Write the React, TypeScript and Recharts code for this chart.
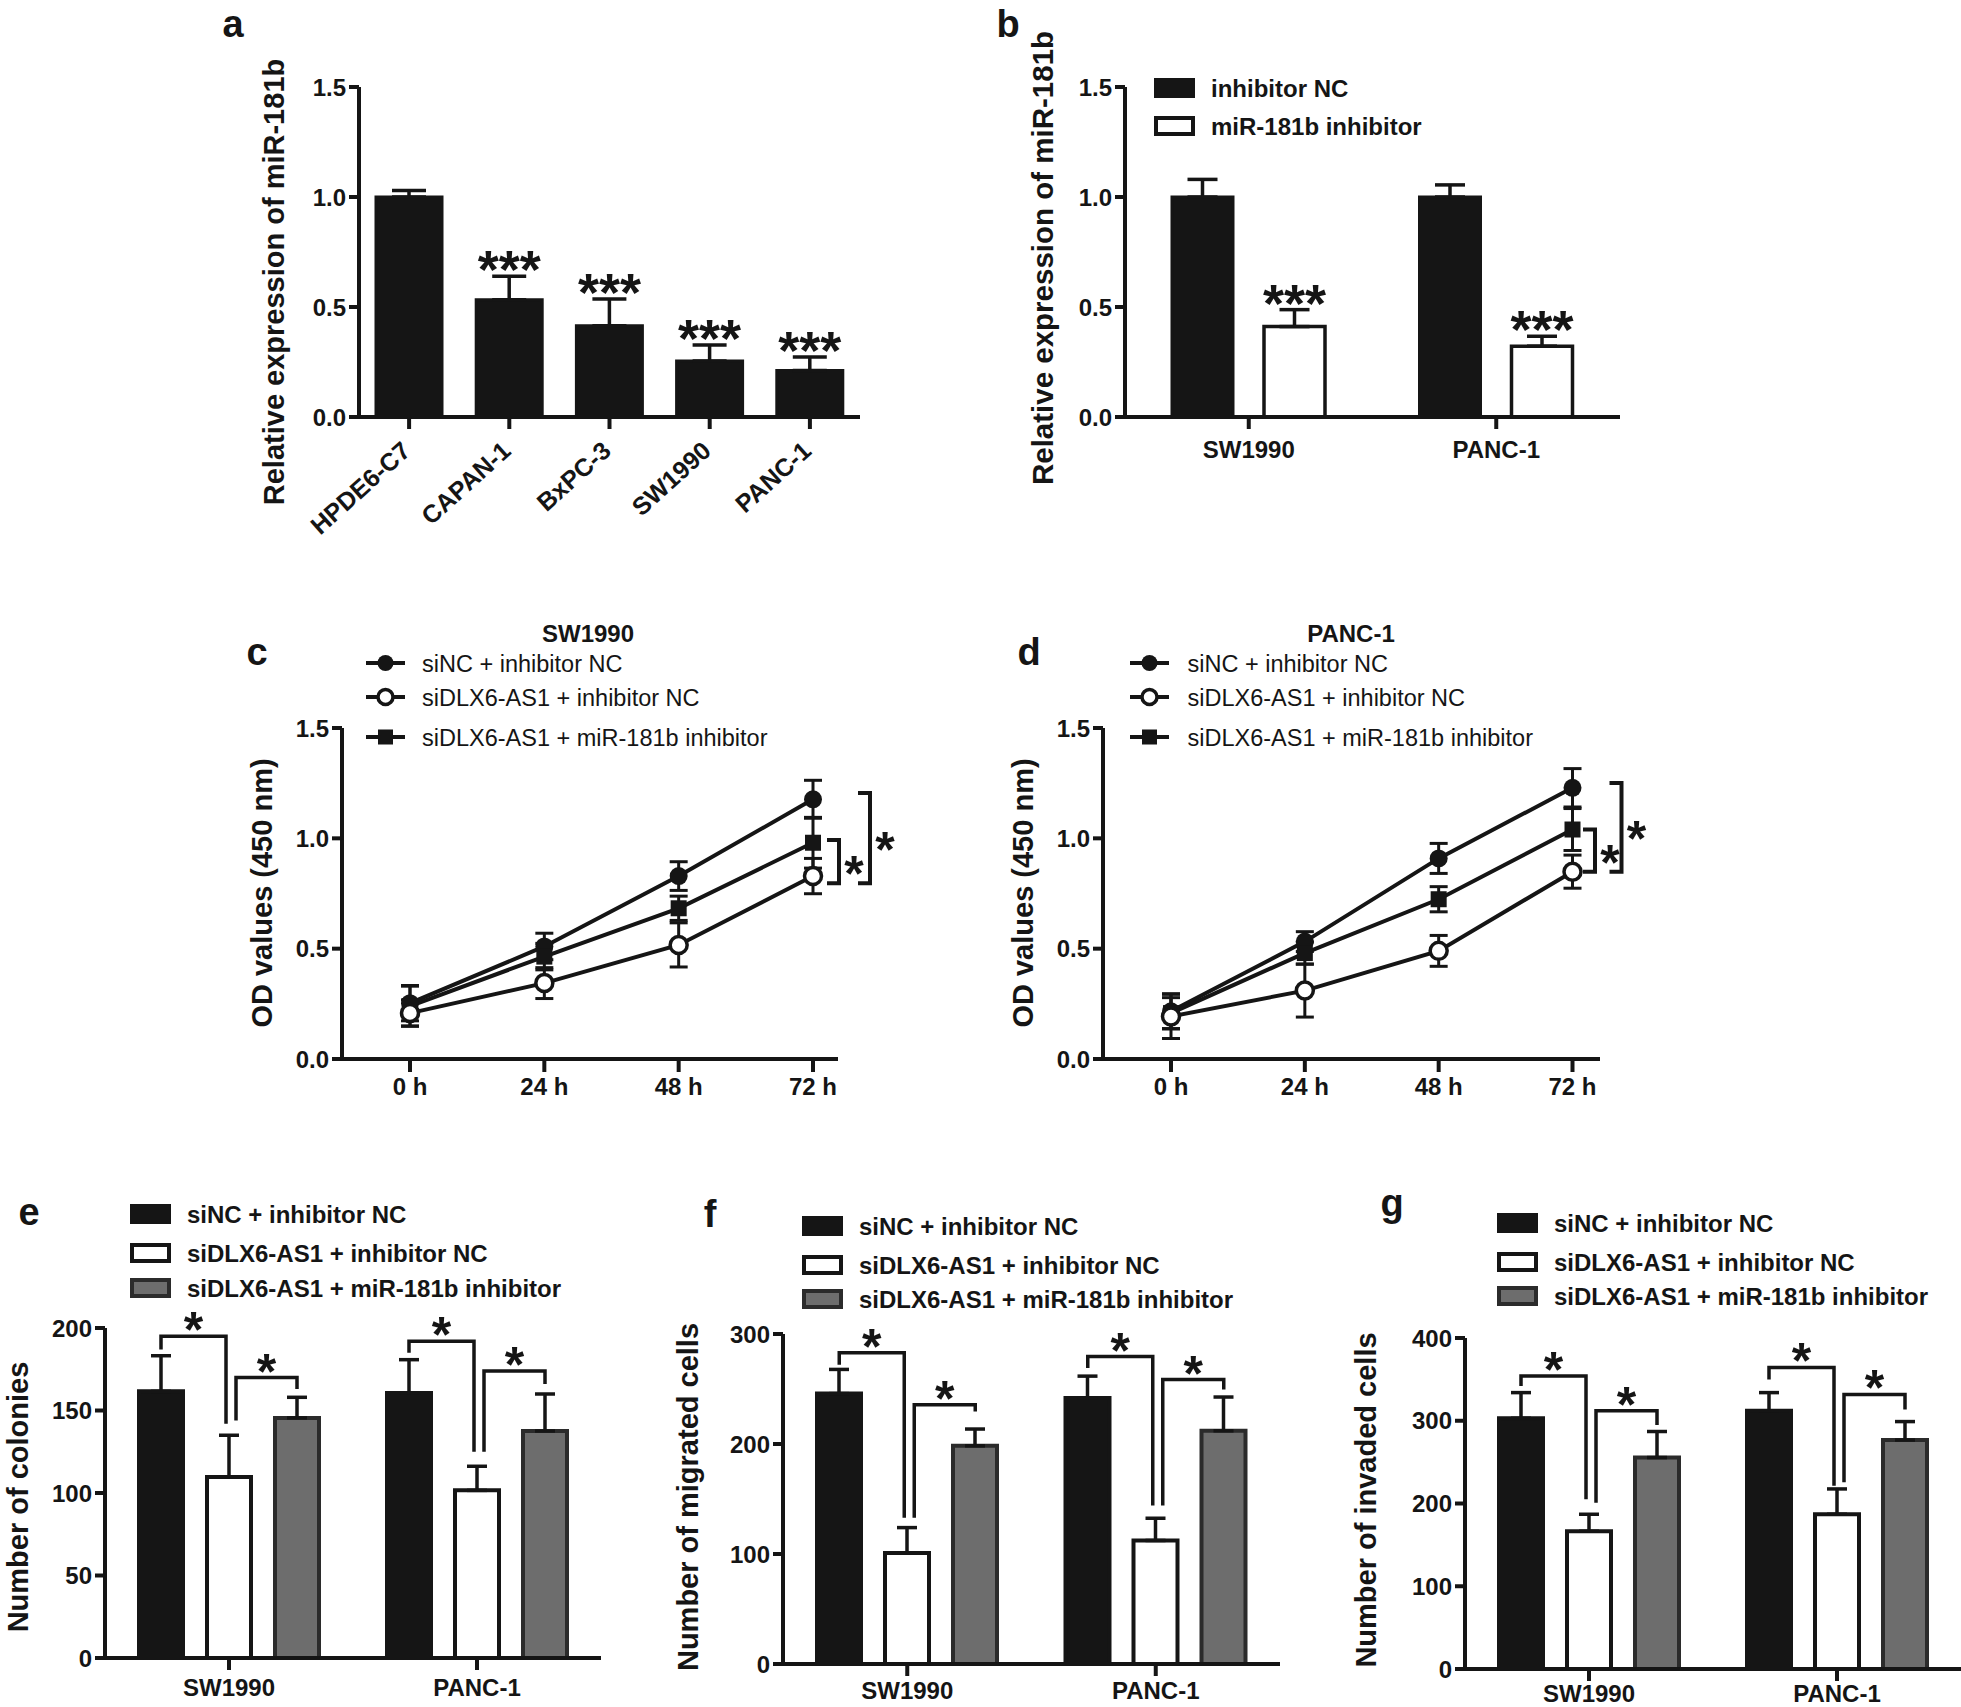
import React from 'react';
import {
  Bar,
  BarChart,
  ErrorBar,
  LabelList,
  Legend,
  Line,
  LineChart,
  ReferenceLine,
  XAxis,
  YAxis,
} from 'recharts';

const FONT = "'Liberation Sans', Arial, Helvetica, sans-serif";
const INK = '#151515';
const GREY = '#6d6d6d';
const GREY_EDGE = '#2b2b2b';

// a: miR-181b in cell lines
const cellLines = ['HPDE6-C7', 'CAPAN-1', 'BxPC-3', 'SW1990', 'PANC-1'];
const cellExpr = [1.0, 0.533, 0.415, 0.254, 0.211];
const cellErr = [0.03, 0.107, 0.121, 0.073, 0.062];
const cellSig = ['', '***', '***', '***', '***'];

// b: inhibitor efficiency
const pdacLines = ['SW1990', 'PANC-1'];
const inhibitorNC = [1.0, 1.0];
const inhibitorNCErr = [0.08, 0.055];
const mir181bInhibitor = [0.411, 0.322];
const mir181bInhibitorErr = [0.077, 0.045];
const inhibitorSig = ['***', '***'];

// c, d: OD 450 nm over time
const groupNames = ['siNC + inhibitor NC', 'siDLX6-AS1 + inhibitor NC', 'siDLX6-AS1 + miR-181b inhibitor'];
const timePoints = ['0 h', '24 h', '48 h', '72 h'];
const swCtrl = [0.253, 0.51, 0.829, 1.177];
const swCtrlErr = [0.08, 0.06, 0.065, 0.086];
const swKd = [0.208, 0.344, 0.517, 0.829];
const swKdErr = [0.06, 0.07, 0.1, 0.08];
const swRescue = [0.24, 0.464, 0.683, 0.98];
const swRescueErr = [0.09, 0.06, 0.055, 0.115];
const swBrackets = [[1.206, 0.796], [0.992, 0.796]]; // outer, inner
const pcCtrl = [0.216, 0.532, 0.909, 1.229];
const pcCtrlErr = [0.08, 0.045, 0.068, 0.087];
const pcKd = [0.193, 0.31, 0.49, 0.849];
const pcKdErr = [0.1, 0.12, 0.07, 0.075];
const pcRescue = [0.208, 0.48, 0.724, 1.04];
const pcRescueErr = [0.07, 0.05, 0.057, 0.095];
const pcBrackets = [[1.251, 0.849], [1.04, 0.849]];

// e: colonies
const colCtrl = [161.6, 160.6];
const colCtrlErr = [21.6, 20.2];
const colKd = [109.7, 101.6];
const colKdErr = [25.3, 14.6];
const colRescue = [145.5, 137.6];
const colRescueErr = [12.5, 22.4];
// [left foot, top, right foot] per bracket, per cell line
const colBrackets = [[[187, 195, 142], [144, 170, 163]], [[185, 192, 125], [125, 174, 166]]];

// f: migrated cells
const migCtrl = [245.8, 241.8];
const migCtrlErr = [22, 19.9];
const migKd = [101, 112.3];
const migKdErr = [23, 20.2];
const migRescue = [198.3, 212];
const migRescueErr = [15.3, 30.7];
const migBrackets = [[[272, 283, 133], [133, 235.7, 229.6]], [[269, 279.5, 144], [144, 258.6, 249.5]]];

// g: invaded cells
const invCtrl = [303, 312];
const invCtrlErr = [31, 22];
const invKd = [166.5, 187];
const invKdErr = [20.5, 30.6];
const invRescue = [255.5, 276.7];
const invRescueErr = [31.5, 22.3];
const invBrackets = [[[342, 354, 205], [201, 312, 295]], [[350, 364.5, 221.6], [225.7, 331.8, 313.5]]];

type Box = { x: number; y: number; w: number; h: number };
type Plot = { l: number; t: number; r: number; b: number };

const Y_W = 80;
const STEP = 68; // bar width + gap in e/f/g

const place = (box: Box, plot: Plot, xH: number) => ({
  width: box.w,
  height: box.h,
  margin: {
    left: plot.l - box.x - Y_W,
    top: plot.t - box.y,
    right: box.x + box.w - plot.r,
    bottom: box.y + box.h - plot.b - xH,
  },
});

const Panel = ({ box, children }: { box: Box; children: React.ReactNode }) => (
  <div style={{ position: 'absolute', left: box.x, top: box.y, width: box.w, height: box.h }}>{children}</div>
);

const axisStroke = { stroke: INK, strokeWidth: 4 };
const tickText = { fill: INK, fontSize: 24, fontWeight: 700, fontFamily: FONT };

const f1 = (v: number) => v.toFixed(1);
const f0 = (v: number) => String(v);

const yAxisProps = (ticks: number[], fmt: (v: number) => string) => ({
  width: Y_W,
  domain: [ticks[0], ticks[ticks.length - 1]] as [number, number],
  ticks,
  interval: 0 as const,
  tickFormatter: fmt,
  axisLine: axisStroke,
  tickLine: axisStroke,
  tickSize: 10,
  tickMargin: 3,
  tick: tickText,
});

const yTitle = (text: string, x: number, y: number, size = 29) => ({
  content: () => (
    <text
      x={x}
      y={y}
      transform={`rotate(-90 ${x} ${y})`}
      textAnchor="middle"
      fontFamily={FONT}
      fontWeight={700}
      fontSize={size}
      fill={INK}
    >
      {text}
    </text>
  ),
});

const starsAbove = (values: number[], errs: number[]) => (p: any) => {
  const vb = p.viewBox ?? p;
  if (!p.value) return null;
  const i = p.index;
  const px = Math.abs(vb.height) / values[i];
  const capY = Math.min(vb.y, vb.y + vb.height) - errs[i] * px;
  return (
    <text
      key={`s${i}`}
      x={vb.x + vb.width / 2}
      y={capY + 12}
      textAnchor="middle"
      fontFamily={FONT}
      fontWeight={700}
      fontSize={54}
      fill={INK}
    >
      {p.value}
    </text>
  );
};

const star = (x: number, cy: number) => (
  <text x={x} y={cy + 29} textAnchor="middle" fontFamily={FONT} fontWeight={700} fontSize={50} fill={INK}>
    *
  </text>
);

// significance bracket over two bars: legs at group centre + lo / + ro
const bracket = (lo: number, ro: number, foot: number, top: number, foot2: number) => (p: any) => {
  const { x1, y1, y2 } = p;
  const yFoot2 = y1 + ((foot2 - foot) * (y2 - y1)) / (top - foot);
  const xl = x1 + lo;
  const xr = x1 + ro;
  return (
    <g>
      <path d={`M${xl},${y1}V${y2}H${xr}V${yFoot2}`} fill="none" stroke={INK} strokeWidth={3.5} />
      {star((xl + xr) / 2, y2 - 18)}
    </g>
  );
};

// right-hand bracket for the growth curves
const sideBracket = (dx: number) => (p: any) => {
  const { x1, y1, y2 } = p;
  const bx = x1 + dx;
  return (
    <g>
      <path d={`M${bx - 12},${y1}H${bx}V${y2}H${bx - 12}`} fill="none" stroke={INK} strokeWidth={4} />
      {star(bx + 15, (y1 + y2) / 2)}
    </g>
  );
};

type Swatch = { label: string; fill: string; stroke: string };
const swatches: Swatch[] = [
  { label: groupNames[0], fill: INK, stroke: INK },
  { label: groupNames[1], fill: '#ffffff', stroke: INK },
  { label: groupNames[2], fill: GREY, stroke: GREY_EDGE },
];

const boxLegend = (items: Swatch[], rows: number[], textX: number, size: number) => () => (
  <svg width={480} height={rows[rows.length - 1] + 20} style={{ display: 'block' }}>
    {items.map((it, i) => (
      <g key={it.label}>
        <rect x={2} y={rows[i] - 8} width={37} height={16} fill={it.fill} stroke={it.stroke} strokeWidth={4} />
        <text x={textX} y={rows[i] + size * 0.36} fontFamily={FONT} fontWeight={700} fontSize={size} fill={INK}>
          {it.label}
        </text>
      </g>
    ))}
  </svg>
);

const filledDot = (p: any) => <circle key={`f${p.index}`} cx={p.cx} cy={p.cy} r={9} fill={INK} />;
const openDot = (p: any) => (
  <circle key={`o${p.index}`} cx={p.cx} cy={p.cy} r={8.5} fill="#ffffff" stroke={INK} strokeWidth={3.5} />
);
const squareDot = (p: any) => (
  <rect key={`q${p.index}`} x={p.cx - 8} y={p.cy - 8} width={16} height={16} fill={INK} />
);

const legendMarkers = [
  (cx: number, cy: number) => <circle cx={cx} cy={cy} r={8} fill={INK} />,
  (cx: number, cy: number) => <circle cx={cx} cy={cy} r={7.5} fill="#fff" stroke={INK} strokeWidth={3.5} />,
  (cx: number, cy: number) => <rect x={cx - 7.5} y={cy - 7.5} width={15} height={15} fill={INK} />,
];

const lineLegend = (title: string, titleX: number, textX: number) => () => (
  <svg width={480} height={135} style={{ display: 'block' }}>
    <text x={titleX} y={22} textAnchor="middle" fontFamily={FONT} fontWeight={700} fontSize={24} fill={INK}>
      {title}
    </text>
    {[43, 77, 117].map((cy, i) => (
      <g key={groupNames[i]}>
        <line x1={0} x2={39} y1={cy} y2={cy} stroke={INK} strokeWidth={4} />
        {legendMarkers[i](19.5, cy)}
        <text x={textX} y={cy + 8.5} fontFamily={FONT} fontSize={23.5} fill={INK}>
          {groupNames[i]}
        </text>
      </g>
    ))}
  </svg>
);

const SlantTick = (p: any) => {
  const x = p.x + 3;
  const y = p.y + 20;
  return (
    <text
      x={x}
      y={y}
      transform={`rotate(-42 ${x} ${y})`}
      textAnchor="end"
      fontFamily={FONT}
      fontWeight={700}
      fontSize={25}
      fill={INK}
    >
      {p.payload.value}
    </text>
  );
};

const PanelA = () => {
  const box = { x: 150, y: 0, w: 730, h: 560 };
  const plot = { l: 359, t: 87, r: 860, b: 417 };
  const rows = cellLines.map((name, i) => ({ name, expr: cellExpr[i], err: [0, cellErr[i]], sig: cellSig[i] }));
  return (
    <Panel box={box}>
      <BarChart data={rows} {...place(box, plot, 100)}>
        <XAxis
          dataKey="name"
          height={100}
          interval={0}
          axisLine={axisStroke}
          tickLine={axisStroke}
          tickSize={12}
          tickMargin={4}
          tick={(p: any) => <SlantTick {...p} />}
        />
        <YAxis
          {...yAxisProps([0, 0.5, 1, 1.5], f1)}
          label={yTitle('Relative expression of miR-181b', 284 - box.x, 282 - box.y)}
        />
        <Bar dataKey="expr" fill={INK} stroke={INK} strokeWidth={3} barSize={66} isAnimationActive={false}>
          <ErrorBar dataKey="err" direction="y" width={17} stroke={INK} strokeWidth={3.5} />
          <LabelList dataKey="sig" content={starsAbove(cellExpr, cellErr)} />
        </Bar>
      </BarChart>
    </Panel>
  );
};

const PanelB = () => {
  const box = { x: 980, y: 0, w: 680, h: 520 };
  const plot = { l: 1125, t: 87, r: 1620, b: 417 };
  const rows = pdacLines.map((name, i) => ({
    name,
    nc: inhibitorNC[i],
    ncErr: [0, inhibitorNCErr[i]],
    inh: mir181bInhibitor[i],
    inhErr: [0, mir181bInhibitorErr[i]],
    sig: inhibitorSig[i],
  }));
  return (
    <Panel box={box}>
      <BarChart data={rows} {...place(box, plot, 60)} barGap={31}>
        <XAxis
          dataKey="name"
          height={60}
          interval={0}
          axisLine={axisStroke}
          tickLine={axisStroke}
          tickSize={12}
          tickMargin={12}
          tick={tickText}
        />
        <YAxis
          {...yAxisProps([0, 0.5, 1, 1.5], f1)}
          label={yTitle('Relative expression of miR-181b', 1053 - box.x, 258 - box.y, 29.5)}
        />
        <Legend
          layout="vertical"
          align="center"
          verticalAlign="middle"
          wrapperStyle={{ left: 174, top: 70, width: 480, height: 80 }}
          content={boxLegend(
            [
              { label: 'inhibitor NC', fill: INK, stroke: INK },
              { label: 'miR-181b inhibitor', fill: '#ffffff', stroke: INK },
            ],
            [18, 56],
            57,
            24,
          )}
        />
        <Bar dataKey="nc" fill={INK} stroke={INK} strokeWidth={3} barSize={61} isAnimationActive={false}>
          <ErrorBar dataKey="ncErr" direction="y" width={15} stroke={INK} strokeWidth={3.5} />
        </Bar>
        <Bar dataKey="inh" fill="#ffffff" stroke={INK} strokeWidth={3.5} barSize={61} isAnimationActive={false}>
          <ErrorBar dataKey="inhErr" direction="y" width={15} stroke={INK} strokeWidth={3.5} />
          <LabelList dataKey="sig" content={starsAbove(mir181bInhibitor, mir181bInhibitorErr)} />
        </Bar>
      </BarChart>
    </Panel>
  );
};

type GrowthCfg = {
  box: Box;
  plot: Plot;
  padRight: number;
  title: string;
  titleX: number;
  legendLeft: number;
  legendTitleX: number;
  legendTextX: number;
  ctrl: number[];
  ctrlErr: number[];
  kd: number[];
  kdErr: number[];
  res: number[];
  resErr: number[];
  brackets: number[][];
  bracketDx: number[];
};

const GrowthPanel = ({ cfg }: { cfg: GrowthCfg }) => {
  const { box, plot } = cfg;
  const rows = timePoints.map((t, i) => ({
    t,
    ctrl: cfg.ctrl[i],
    ctrlErr: cfg.ctrlErr[i],
    kd: cfg.kd[i],
    kdErr: cfg.kdErr[i],
    res: cfg.res[i],
    resErr: cfg.resErr[i],
  }));
  const last = timePoints[timePoints.length - 1];
  return (
    <Panel box={box}>
      <LineChart data={rows} {...place(box, plot, 50)}>
        <XAxis
          dataKey="t"
          scale="point"
          padding={{ left: 68, right: cfg.padRight }}
          height={50}
          interval={0}
          axisLine={axisStroke}
          tickLine={axisStroke}
          tickSize={13}
          tickMargin={6}
          tick={tickText}
        />
        <YAxis
          {...yAxisProps([0, 0.5, 1, 1.5], f1)}
          label={yTitle('OD values (450 nm)', cfg.titleX - box.x, 893 - box.y)}
        />
        <Legend
          layout="vertical"
          align="center"
          verticalAlign="middle"
          wrapperStyle={{ left: cfg.legendLeft - box.x, top: 20, width: 480, height: 135 }}
          content={lineLegend(cfg.title, cfg.legendTitleX, cfg.legendTextX)}
        />
        {cfg.brackets.map(([top, bottom], k) => (
          <ReferenceLine
            key={`br${k}`}
            segment={[
              { x: last, y: top },
              { x: last, y: bottom },
            ]}
            ifOverflow="visible"
            shape={sideBracket(cfg.bracketDx[k])}
          />
        ))}
        <Line dataKey="ctrl" stroke={INK} strokeWidth={4} dot={filledDot} activeDot={false} isAnimationActive={false}>
          <ErrorBar dataKey="ctrlErr" direction="y" width={9} stroke={INK} strokeWidth={3} />
        </Line>
        <Line dataKey="res" stroke={INK} strokeWidth={4} dot={squareDot} activeDot={false} isAnimationActive={false}>
          <ErrorBar dataKey="resErr" direction="y" width={9} stroke={INK} strokeWidth={3} />
        </Line>
        <Line dataKey="kd" stroke={INK} strokeWidth={4} dot={openDot} activeDot={false} isAnimationActive={false}>
          <ErrorBar dataKey="kdErr" direction="y" width={9} stroke={INK} strokeWidth={3} />
        </Line>
      </LineChart>
    </Panel>
  );
};

type TripleCfg = {
  box: Box;
  plot: Plot;
  ticks: number[];
  title: string;
  titleX: number;
  titleY: number;
  legendLeft: number;
  legendTop: number;
  legendRows: number[];
  legendSize: number;
  tickGap: number;
  ctrl: number[];
  ctrlErr: number[];
  kd: number[];
  kdErr: number[];
  res: number[];
  resErr: number[];
  brackets: number[][][];
};

const TriplePanel = ({ cfg }: { cfg: TripleCfg }) => {
  const { box, plot } = cfg;
  const rows = pdacLines.map((name, i) => ({
    name,
    ctrl: cfg.ctrl[i],
    ctrlErr: [0, cfg.ctrlErr[i]],
    kd: cfg.kd[i],
    kdErr: [0, cfg.kdErr[i]],
    res: cfg.res[i],
    resErr: [0, cfg.resErr[i]],
  }));
  return (
    <Panel box={box}>
      <BarChart data={rows} {...place(box, plot, 36)} barGap={24}>
        <XAxis
          dataKey="name"
          height={36}
          interval={0}
          axisLine={axisStroke}
          tickLine={axisStroke}
          tickSize={12}
          tickMargin={cfg.tickGap}
          tick={tickText}
        />
        <YAxis {...yAxisProps(cfg.ticks, f0)} label={yTitle(cfg.title, cfg.titleX - box.x, cfg.titleY - box.y)} />
        <Legend
          layout="vertical"
          align="center"
          verticalAlign="middle"
          wrapperStyle={{ left: cfg.legendLeft - box.x, top: cfg.legendTop - box.y, width: 480, height: 120 }}
          content={boxLegend(swatches, cfg.legendRows, 57, cfg.legendSize)}
        />
        <Bar dataKey="ctrl" fill={INK} stroke={INK} strokeWidth={4} barSize={44} isAnimationActive={false}>
          <ErrorBar dataKey="ctrlErr" direction="y" width={10} stroke={INK} strokeWidth={3.5} />
        </Bar>
        <Bar dataKey="kd" fill="#ffffff" stroke={INK} strokeWidth={4} barSize={44} isAnimationActive={false}>
          <ErrorBar dataKey="kdErr" direction="y" width={10} stroke={INK} strokeWidth={3.5} />
        </Bar>
        <Bar dataKey="res" fill={GREY} stroke={GREY_EDGE} strokeWidth={4} barSize={44} isAnimationActive={false}>
          <ErrorBar dataKey="resErr" direction="y" width={10} stroke={INK} strokeWidth={3.5} />
        </Bar>
        {pdacLines.map((g, gi) =>
          cfg.brackets[gi].map(([foot, top, foot2], k) => (
            <ReferenceLine
              key={`${g}-${k}`}
              segment={[
                { x: g, y: foot },
                { x: g, y: top },
              ]}
              ifOverflow="visible"
              shape={bracket(k === 0 ? -STEP : 7, k === 0 ? -3 : STEP, foot, top, foot2)}
            />
          )),
        )}
      </BarChart>
    </Panel>
  );
};

const panelLetters = [
  { t: 'a', x: 233, y: 37 },
  { t: 'b', x: 1008, y: 37 },
  { t: 'c', x: 257, y: 665 },
  { t: 'd', x: 1029, y: 665 },
  { t: 'e', x: 29, y: 1225 },
  { t: 'f', x: 710, y: 1227 },
  { t: 'g', x: 1392, y: 1216 },
];

export default function App() {
  return (
    <div style={{ position: 'absolute', left: 0, top: 0, width: 1961, height: 1707, background: '#ffffff' }}>
      <PanelA />
      <PanelB />
      <GrowthPanel
        cfg={{
          box: { x: 200, y: 600, w: 720, h: 520 },
          plot: { l: 342, t: 728, r: 838, b: 1059 },
          padRight: 25,
          title: 'SW1990',
          titleX: 272,
          legendLeft: 366,
          legendTitleX: 222,
          legendTextX: 56,
          ctrl: swCtrl,
          ctrlErr: swCtrlErr,
          kd: swKd,
          kdErr: swKdErr,
          res: swRescue,
          resErr: swRescueErr,
          brackets: swBrackets,
          bracketDx: [57, 26],
        }}
      />
      <GrowthPanel
        cfg={{
          box: { x: 980, y: 600, w: 720, h: 520 },
          plot: { l: 1103, t: 728, r: 1600, b: 1059 },
          padRight: 27.5,
          title: 'PANC-1',
          titleX: 1033,
          legendLeft: 1130,
          legendTitleX: 221,
          legendTextX: 57.5,
          ctrl: pcCtrl,
          ctrlErr: pcCtrlErr,
          kd: pcKd,
          kdErr: pcKdErr,
          res: pcRescue,
          resErr: pcRescueErr,
          brackets: pcBrackets,
          bracketDx: [49, 22.5],
        }}
      />
      <TriplePanel
        cfg={{
          box: { x: 0, y: 1180, w: 640, h: 527 },
          plot: { l: 105, t: 1328, r: 601, b: 1658 },
          ticks: [0, 50, 100, 150, 200],
          title: 'Number of colonies',
          titleX: 28,
          titleY: 1497,
          legendLeft: 130,
          legendTop: 1195,
          legendRows: [19, 58, 93],
          legendSize: 24,
          tickGap: 9,
          ctrl: colCtrl,
          ctrlErr: colCtrlErr,
          kd: colKd,
          kdErr: colKdErr,
          res: colRescue,
          resErr: colRescueErr,
          brackets: colBrackets,
        }}
      />
      <TriplePanel
        cfg={{
          box: { x: 660, y: 1180, w: 640, h: 527 },
          plot: { l: 783, t: 1334, r: 1280, b: 1664 },
          ticks: [0, 100, 200, 300],
          title: 'Number of migrated cells',
          titleX: 698,
          titleY: 1497,
          legendLeft: 802,
          legendTop: 1205,
          legendRows: [21, 60, 94],
          legendSize: 24,
          tickGap: 6,
          ctrl: migCtrl,
          ctrlErr: migCtrlErr,
          kd: migKd,
          kdErr: migKdErr,
          res: migRescue,
          resErr: migRescueErr,
          brackets: migBrackets,
        }}
      />
      <TriplePanel
        cfg={{
          box: { x: 1300, y: 1180, w: 661, h: 527 },
          plot: { l: 1465, t: 1338, r: 1961, b: 1669 },
          ticks: [0, 100, 200, 300, 400],
          title: 'Number of invaded cells',
          titleX: 1376,
          titleY: 1500,
          legendLeft: 1497,
          legendTop: 1203,
          legendRows: [20, 59, 93],
          legendSize: 24,
          tickGap: 4,
          ctrl: invCtrl,
          ctrlErr: invCtrlErr,
          kd: invKd,
          kdErr: invKdErr,
          res: invRescue,
          resErr: invRescueErr,
          brackets: invBrackets,
        }}
      />
      <svg
        width={1961}
        height={1707}
        style={{ position: 'absolute', left: 0, top: 0, pointerEvents: 'none' }}
      >
        {panelLetters.map((l) => (
          <text
            key={l.t}
            x={l.x}
            y={l.y}
            textAnchor="middle"
            fontFamily={FONT}
            fontWeight={700}
            fontSize={38}
            fill={INK}
          >
            {l.t}
          </text>
        ))}
      </svg>
    </div>
  );
}
